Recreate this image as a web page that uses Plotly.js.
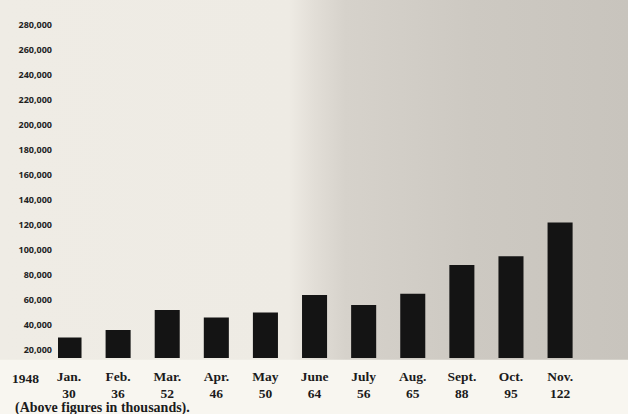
<!DOCTYPE html>
<html>
<head>
<meta charset="utf-8">
<script src="https://cdn.plot.ly/plotly-3.0.1.min.js"></script>
<style>
  html, body { margin: 0; padding: 0; }
  #chart {
    width: 628px; height: 414px;
    background: linear-gradient(90deg, #efece5 0%, #eeebe4 46%, #e2ded7 50%, #d6d2cb 55%, #cdc9c2 75%, #c8c4bd 100%);
  }
</style>
</head>
<body>
<div id="chart"></div>
<script>
// Data (1948 monthly figures)
const months = ["Jan.", "Feb.", "Mar.", "Apr.", "May", "June", "July", "Aug.", "Sept.", "Oct.", "Nov."];
const valuesThousands = [30, 36, 52, 46, 50, 64, 56, 65, 88, 95, 122];
const yearLabel = "1948";
const noteLabel = "(Above figures in thousands).";
const yTicks = [20000, 40000, 60000, 80000, 100000, 120000, 140000, 160000, 180000, 200000, 220000, 240000, 260000, 280000];

const values = valuesThousands.map(v => v * 1000);
const tickText = months.map((m, i) => m + "<br>" + valuesThousands[i]);

const serif = "Liberation Serif, Times New Roman, serif";

const trace = {
  type: "bar",
  x: months,
  y: values,
  marker: { color: "#141414", line: { width: 0 } },
  hoverinfo: "skip"
};

const layout = {
  width: 628,
  height: 414,
  margin: { l: 58, r: 8, t: 5, b: 56 },
  paper_bgcolor: "rgba(0,0,0,0)",
  plot_bgcolor: "rgba(0,0,0,0)",
  bargap: 0.49,
  showlegend: false,
  xaxis: {
    type: "category",
    range: [-0.224, 11.22],
    tickvals: months,
    ticktext: tickText,
    showgrid: false,
    zeroline: false,
    showline: false,
    ticks: "",
    ticklabelstandoff: 8,
    tickfont: { family: serif, size: 13.5, color: "#1b1b1b", weight: "bold" },
    fixedrange: true
  },
  yaxis: {
    range: [13600, 296000],
    tickvals: yTicks,
    tickformat: ",d",
    showgrid: false,
    zeroline: false,
    showline: false,
    ticks: "",
    ticklabelstandoff: 5,
    tickfont: { family: "Open Sans, DejaVu Sans, sans-serif", size: 9, color: "#222222", weight: "bold" },
    fixedrange: true
  },
  shapes: [
    {
      type: "rect", xref: "paper", yref: "paper", layer: "below",
      x0: -0.2, x1: 1.05, y0: -0.2, y1: -0.005,
      fillcolor: "#f8f6f0", line: { width: 0 }
    }
  ],
  annotations: [
    {
      text: yearLabel, xref: "paper", yref: "paper",
      x: -0.057, y: -0.058, xanchor: "center", yanchor: "middle",
      showarrow: false,
      font: { family: serif, size: 13.5, color: "#1b1b1b", weight: "bold" }
    },
    {
      text: noteLabel, xref: "paper", yref: "paper",
      x: -0.08, y: -0.142, xanchor: "left", yanchor: "middle",
      showarrow: false,
      font: { family: serif, size: 14, color: "#1b1b1b", weight: "bold" }
    }
  ]
};

Plotly.newPlot("chart", [trace], layout, { displayModeBar: false, staticPlot: true });
</script>
</body>
</html>
